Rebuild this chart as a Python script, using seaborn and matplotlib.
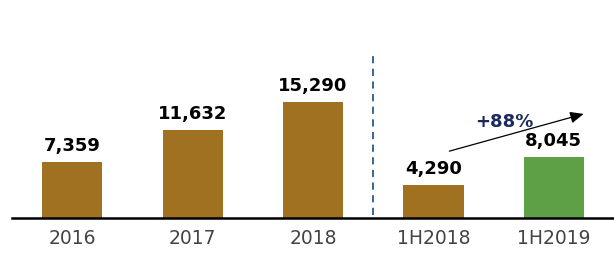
import matplotlib
matplotlib.use("Agg")
import matplotlib.pyplot as plt
import seaborn as sns
import pandas as pd

categories = ["2016", "2017", "2018", "1H2018", "1H2019"]
values = [7359, 11632, 15290, 4290, 8045]
value_labels = ["7,359", "11,632", "15,290", "4,290", "8,045"]
growth_label = "+88%"

brown = "#A07120"
green = "#5EA046"
colors = [brown, brown, brown, brown, green]

sns.set_style("white")
plt.rcParams['font.family'] = ['DejaVu Sans']

df = pd.DataFrame({"cat": categories, "val": values})

fig = plt.figure(figsize=(6.14, 2.69), dpi=100)
ax = fig.add_axes([12/614, 51/269, 602/614, 218/269])

sns.barplot(data=df, x="cat", y="val", hue="cat", palette=colors, legend=False,
            width=0.5, ax=ax, saturation=1, linewidth=0, edgecolor="none")

ax.set_xlim(-0.5, 4.5)
ax.set_ylim(0, 28700)

for i, (v, lab) in enumerate(zip(values, value_labels)):
    ax.annotate(lab, (i, v), xytext=(0, 5), textcoords="offset points",
                ha="center", va="bottom", fontsize=13, fontweight="bold", color="black")

# divider
ax.plot([2.5, 2.5], [400, 21300], linestyle=(0, (4, 3)), color="#2B5B8A", linewidth=1.3)

# growth arrow
ax.annotate("", xy=(4.27, 13800), xytext=(3.11, 8700),
            arrowprops=dict(arrowstyle="-|>,head_length=0.8,head_width=0.35", color="black", lw=0.9))
ax.text(3.59, 12600, growth_label, ha="center", va="center", fontsize=13,
        fontweight="bold", color="#1B2A5C")

for s in ["top", "right", "left"]:
    ax.spines[s].set_visible(False)
ax.spines["bottom"].set_color("black")
ax.spines["bottom"].set_linewidth(1.8)
ax.set_yticks([])
ax.set_xlabel("")
ax.set_ylabel("")
ax.tick_params(axis="x", length=0, labelsize=13.5, labelcolor="#444444", pad=8)

fig.savefig("out.png", dpi=100)
